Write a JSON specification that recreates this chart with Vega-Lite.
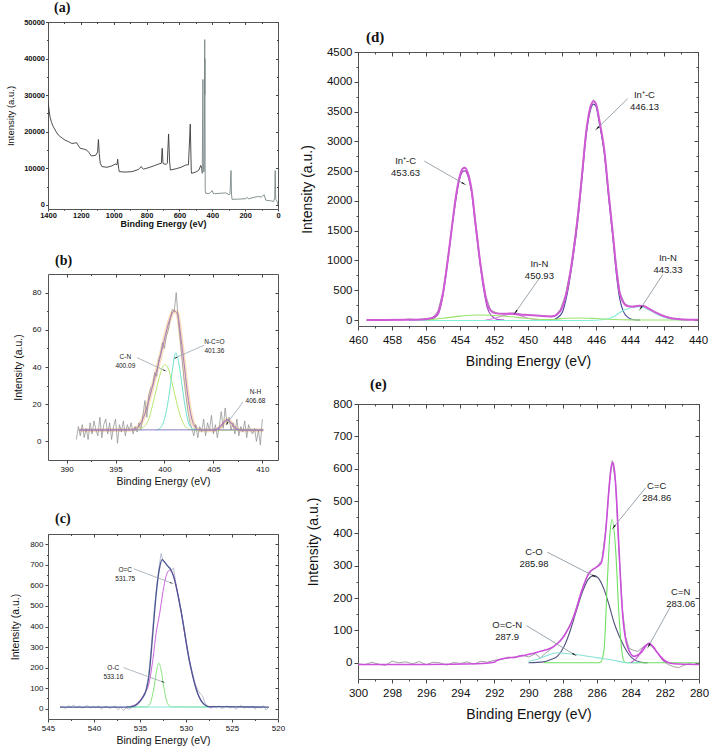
{
"$schema":"https://vega.github.io/schema/vega-lite/v6.json",
"background":"white",
"padding":{"left":5,"top":0,"right":4,"bottom":4},
"config":{
 "font":"Liberation Sans",
 "numberFormat":"d",
 "view":{"stroke":"#555555","strokeWidth":1},
 "axis":{"grid":false,"domain":false,"labelColor":"#111111","titleColor":"#111111","tickColor":"#444444","titleFontWeight":"normal","labelOverlap":false,"labelFlush":false},
 "title":{"font":"Liberation Serif","fontWeight":"bold","anchor":"start","frame":"group","color":"#111111","fontSize":14}
},
"datasets":{
 "a_raw":[{"x":1400,"y":28000},{"x":1395,"y":26500},{"x":1388,"y":24100},{"x":1378,"y":22500},{"x":1368,"y":21400},{"x":1350,"y":20000},{"x":1337,"y":19100},{"x":1320,"y":18500},{"x":1296,"y":17700},{"x":1275,"y":17300},{"x":1255,"y":16800},{"x":1240,"y":16900},{"x":1225,"y":17000},{"x":1215,"y":16200},{"x":1204,"y":15500},{"x":1185,"y":15300},{"x":1164,"y":15000},{"x":1150,"y":14300},{"x":1137,"y":13400},{"x":1120,"y":13500},{"x":1109,"y":13600},{"x":1098,"y":14500},{"x":1093,"y":17900},{"x":1088,"y":14000},{"x":1082,"y":11400},{"x":1072,"y":10500},{"x":1041,"y":10300},{"x":1010,"y":10700},{"x":990,"y":11200},{"x":980,"y":11000},{"x":976,"y":12500},{"x":970,"y":10000},{"x":966,"y":9100},{"x":930,"y":9000},{"x":889,"y":9100},{"x":850,"y":9700},{"x":832,"y":10500},{"x":825,"y":10000},{"x":818,"y":9800},{"x":780,"y":10300},{"x":750,"y":10800},{"x":726,"y":11200},{"x":710,"y":11400},{"x":705,"y":15500},{"x":700,"y":11400},{"x":694,"y":11200},{"x":680,"y":11100},{"x":674,"y":11400},{"x":666,"y":19400},{"x":660,"y":12000},{"x":655,"y":9550},{"x":620,"y":9900},{"x":590,"y":10300},{"x":563,"y":10900},{"x":545,"y":11000},{"x":534,"y":22100},{"x":528,"y":9500},{"x":526,"y":8650},{"x":500,"y":9000},{"x":482,"y":9500},{"x":470,"y":10800},{"x":464,"y":10000},{"x":461,"y":8650},{"x":457,"y":34300},{"x":455,"y":12000},{"x":452,"y":9000},{"x":449,"y":9500},{"x":447,"y":30000},{"x":446,"y":45200},{"x":445.5,"y":30000},{"x":445,"y":40000},{"x":443,"y":4000},{"x":440,"y":3200},{"x":420,"y":3100},{"x":400,"y":3900},{"x":395,"y":3200},{"x":385,"y":3100},{"x":350,"y":3200},{"x":318,"y":3300},{"x":298,"y":2800},{"x":292,"y":3000},{"x":286,"y":9400},{"x":283,"y":3000},{"x":280,"y":1550},{"x":240,"y":1600},{"x":196,"y":1700},{"x":190,"y":2100},{"x":180,"y":1700},{"x":125,"y":2300},{"x":100,"y":2200},{"x":84,"y":2800},{"x":74,"y":1300},{"x":40,"y":1100},{"x":27,"y":950},{"x":20,"y":2000},{"x":17,"y":9400},{"x":14,"y":1500},{"x":9,"y":1300},{"x":3,"y":600},{"x":0,"y":0}],
 "b_raw":[{"x":391.0,"y":1},{"x":391.2,"y":8},{"x":391.4,"y":3},{"x":391.6,"y":9},{"x":391.8,"y":2},{"x":392.0,"y":7},{"x":392.2,"y":1},{"x":392.4,"y":10},{"x":392.6,"y":4},{"x":392.8,"y":11},{"x":393.0,"y":6},{"x":393.2,"y":3},{"x":393.4,"y":13},{"x":393.6,"y":2},{"x":393.8,"y":9},{"x":394.0,"y":12},{"x":394.2,"y":4},{"x":394.4,"y":10},{"x":394.6,"y":1},{"x":394.8,"y":8},{"x":395.0,"y":12},{"x":395.2,"y":-1},{"x":395.4,"y":9},{"x":395.6,"y":5},{"x":395.8,"y":11},{"x":396.0,"y":3},{"x":396.2,"y":9},{"x":396.4,"y":6},{"x":396.6,"y":10},{"x":396.8,"y":4},{"x":397.0,"y":8},{"x":397.2,"y":5},{"x":397.4,"y":10},{"x":397.6,"y":6},{"x":397.8,"y":14},{"x":398.0,"y":22},{"x":398.2,"y":13},{"x":398.4,"y":25},{"x":398.6,"y":29},{"x":398.8,"y":30},{"x":399.0,"y":37},{"x":399.2,"y":35},{"x":399.4,"y":44},{"x":399.6,"y":47},{"x":399.8,"y":53},{"x":400.0,"y":50},{"x":400.2,"y":57},{"x":400.4,"y":60},{"x":400.6,"y":66},{"x":400.8,"y":71},{"x":401.0,"y":70},{"x":401.2,"y":80},{"x":401.4,"y":66},{"x":401.6,"y":55},{"x":401.8,"y":44},{"x":402.0,"y":33},{"x":402.2,"y":24},{"x":402.4,"y":16},{"x":402.6,"y":10},{"x":402.8,"y":7},{"x":403.0,"y":3},{"x":403.2,"y":9},{"x":403.4,"y":2},{"x":403.6,"y":8},{"x":403.8,"y":5},{"x":404.0,"y":12},{"x":404.2,"y":3},{"x":404.4,"y":10},{"x":404.6,"y":6},{"x":404.8,"y":14},{"x":405.0,"y":4},{"x":405.2,"y":9},{"x":405.4,"y":2},{"x":405.6,"y":8},{"x":405.8,"y":16},{"x":406.0,"y":7},{"x":406.2,"y":18},{"x":406.4,"y":9},{"x":406.6,"y":13},{"x":406.8,"y":6},{"x":407.0,"y":10},{"x":407.2,"y":4},{"x":407.4,"y":12},{"x":407.6,"y":3},{"x":407.8,"y":8},{"x":408.0,"y":5},{"x":408.2,"y":11},{"x":408.4,"y":2},{"x":408.6,"y":9},{"x":408.8,"y":6},{"x":409.0,"y":4},{"x":409.2,"y":7},{"x":409.4,"y":0},{"x":409.6,"y":6},{"x":409.8,"y":-2},{"x":410.0,"y":12}],
 "b_fit":[{"s":"env","x":391.3,"y":6},{"s":"env","x":396.5,"y":6.2},{"s":"env","x":397.0,"y":6.8},{"s":"env","x":397.5,"y":9},{"s":"env","x":398.0,"y":15},{"s":"env","x":398.5,"y":24},{"s":"env","x":399.0,"y":34},{"s":"env","x":399.5,"y":44},{"s":"env","x":400.0,"y":55},{"s":"env","x":400.5,"y":65},{"s":"env","x":401.0,"y":70},{"s":"env","x":401.3,"y":69},{"s":"env","x":401.7,"y":55},{"s":"env","x":402.0,"y":42},{"s":"env","x":402.3,"y":28},{"s":"env","x":402.6,"y":17},{"s":"env","x":403.0,"y":9},{"s":"env","x":403.5,"y":6.3},{"s":"env","x":404.0,"y":6},{"s":"env","x":405.0,"y":6},{"s":"env","x":405.6,"y":7},{"s":"env","x":406.0,"y":9.5},{"s":"env","x":406.4,"y":11.6},{"s":"env","x":406.8,"y":10},{"s":"env","x":407.2,"y":7.5},{"s":"env","x":407.8,"y":6},{"s":"env","x":410.1,"y":6},
  {"s":"CN","x":397.0,"y":6},{"s":"CN","x":397.8,"y":7.5},{"s":"CN","x":398.4,"y":12},{"s":"CN","x":398.9,"y":22},{"s":"CN","x":399.4,"y":33},{"s":"CN","x":399.8,"y":40},{"s":"CN","x":400.05,"y":41.3},{"s":"CN","x":400.4,"y":39},{"s":"CN","x":400.8,"y":31},{"s":"CN","x":401.2,"y":22},{"s":"CN","x":401.6,"y":14},{"s":"CN","x":402.0,"y":9},{"s":"CN","x":402.5,"y":6.5},{"s":"CN","x":403.2,"y":6},{"s":"CN","x":410.1,"y":6},
  {"s":"NCO","x":399.2,"y":6},{"s":"NCO","x":399.7,"y":8},{"s":"NCO","x":400.1,"y":14},{"s":"NCO","x":400.5,"y":26},{"s":"NCO","x":400.8,"y":38},{"s":"NCO","x":401.15,"y":47.6},{"s":"NCO","x":401.5,"y":41},{"s":"NCO","x":401.8,"y":30},{"s":"NCO","x":402.1,"y":19},{"s":"NCO","x":402.4,"y":11},{"s":"NCO","x":402.8,"y":7},{"s":"NCO","x":403.3,"y":6},
  {"s":"NH","x":405.0,"y":6},{"s":"NH","x":405.6,"y":7.5},{"s":"NH","x":406.0,"y":10},{"s":"NH","x":406.4,"y":11.6},{"s":"NH","x":406.8,"y":10},{"s":"NH","x":407.2,"y":7.5},{"s":"NH","x":407.6,"y":6},
  {"s":"base","x":391.3,"y":6.2},{"s":"base","x":410.1,"y":6.2}],
 "b_ann":[{"label":"C-N\n400.09","tx":396.0,"ty":45.6,"x1":397.2,"y1":45,"x2":400.0,"y2":38.2,"ang":115},{"label":"N-C=O\n401.36","tx":405.1,"ty":53.2,"x1":404.05,"y1":51.7,"x2":401.15,"y2":45,"ang":247},{"label":"N-H\n406.68","tx":409.3,"ty":26.5,"x1":408.0,"y1":21.1,"x2":406.4,"y2":9.7,"ang":215}],
 "c_raw":[{"x":543.7,"y":5},{"x":543.4,"y":12},{"x":543.1,"y":0},{"x":542.8,"y":15},{"x":542.5,"y":8},{"x":542.2,"y":18},{"x":541.9,"y":4},{"x":541.6,"y":14},{"x":541.3,"y":2},{"x":541.0,"y":10},{"x":540.7,"y":16},{"x":540.4,"y":3},{"x":540.1,"y":12},{"x":539.8,"y":6},{"x":539.5,"y":14},{"x":539.2,"y":-2},{"x":538.9,"y":9},{"x":538.6,"y":12},{"x":538.3,"y":1},{"x":538.0,"y":8},{"x":537.7,"y":13},{"x":537.4,"y":-5},{"x":537.1,"y":7},{"x":536.8,"y":-8},{"x":536.5,"y":4},{"x":536.2,"y":-3},{"x":535.9,"y":6},{"x":535.6,"y":14},{"x":535.3,"y":28},{"x":535.0,"y":38},{"x":534.7,"y":60},{"x":534.4,"y":85},{"x":534.1,"y":150},{"x":533.8,"y":290},{"x":533.5,"y":460},{"x":533.2,"y":590},{"x":532.9,"y":700},{"x":532.7,"y":755},{"x":532.5,"y":720},{"x":532.2,"y":705},{"x":531.9,"y":690},{"x":531.6,"y":672},{"x":531.35,"y":685},{"x":531.1,"y":610},{"x":530.8,"y":545},{"x":530.5,"y":470},{"x":530.2,"y":395},{"x":529.9,"y":310},{"x":529.6,"y":235},{"x":529.3,"y":175},{"x":529.0,"y":120},{"x":528.7,"y":90},{"x":528.4,"y":70},{"x":528.2,"y":62},{"x":527.9,"y":25},{"x":527.6,"y":10},{"x":527.3,"y":2},{"x":527.0,"y":12},{"x":526.7,"y":4},{"x":526.4,"y":15},{"x":526.1,"y":0},{"x":525.8,"y":9},{"x":525.5,"y":14},{"x":525.2,"y":3},{"x":524.9,"y":11},{"x":524.6,"y":-3},{"x":524.3,"y":8},{"x":524.0,"y":16},{"x":523.7,"y":2},{"x":523.4,"y":10},{"x":523.1,"y":5},{"x":522.8,"y":13},{"x":522.5,"y":-2},{"x":522.2,"y":9},{"x":521.9,"y":4},{"x":521.6,"y":15},{"x":521.3,"y":-6},{"x":521.0,"y":8}],
 "c_fit":[{"s":"env","x":543.7,"y":8},{"s":"env","x":536.5,"y":8},{"s":"env","x":535.8,"y":10},{"s":"env","x":535.3,"y":22},{"s":"env","x":534.8,"y":48},{"s":"env","x":534.3,"y":94},{"s":"env","x":534.0,"y":170},{"s":"env","x":533.6,"y":371},{"s":"env","x":533.3,"y":530},{"s":"env","x":533.1,"y":616},{"s":"env","x":532.85,"y":690},{"s":"env","x":532.6,"y":725},{"s":"env","x":532.3,"y":712},{"s":"env","x":532.0,"y":695},{"s":"env","x":531.7,"y":680},{"s":"env","x":531.4,"y":650},{"s":"env","x":531.1,"y":600},{"s":"env","x":530.8,"y":535},{"s":"env","x":530.5,"y":465},{"s":"env","x":530.2,"y":385},{"s":"env","x":529.9,"y":300},{"s":"env","x":529.6,"y":225},{"s":"env","x":529.3,"y":165},{"s":"env","x":529.0,"y":112},{"s":"env","x":528.7,"y":70},{"s":"env","x":528.4,"y":42},{"s":"env","x":528.0,"y":20},{"s":"env","x":527.5,"y":10},{"s":"env","x":521.0,"y":8},
  {"s":"OC1","x":536.5,"y":8},{"s":"OC1","x":535.5,"y":20},{"s":"OC1","x":535.0,"y":40},{"s":"OC1","x":534.5,"y":75},{"s":"OC1","x":534.0,"y":127},{"s":"OC1","x":533.6,"y":240},{"s":"OC1","x":533.24,"y":371},{"s":"OC1","x":532.9,"y":453},{"s":"OC1","x":532.5,"y":570},{"s":"OC1","x":532.2,"y":640},{"s":"OC1","x":531.8,"y":673},{"s":"OC1","x":531.5,"y":662},{"s":"OC1","x":531.2,"y":625},{"s":"OC1","x":530.9,"y":560},{"s":"OC1","x":530.6,"y":490},{"s":"OC1","x":530.3,"y":410},{"s":"OC1","x":530.0,"y":325},{"s":"OC1","x":529.7,"y":250},{"s":"OC1","x":529.4,"y":185},{"s":"OC1","x":529.1,"y":130},{"s":"OC1","x":528.8,"y":85},{"s":"OC1","x":528.5,"y":52},{"s":"OC1","x":528.1,"y":25},{"s":"OC1","x":527.6,"y":10},{"s":"OC1","x":527.0,"y":8},
  {"s":"OC2","x":536.3,"y":8},{"s":"OC2","x":534.3,"y":9},{"s":"OC2","x":534.0,"y":18},{"s":"OC2","x":533.7,"y":55},{"s":"OC2","x":533.4,"y":125},{"s":"OC2","x":533.2,"y":185},{"s":"OC2","x":532.95,"y":221},{"s":"OC2","x":532.7,"y":188},{"s":"OC2","x":532.5,"y":130},{"s":"OC2","x":532.2,"y":55},{"s":"OC2","x":531.9,"y":18},{"s":"OC2","x":531.6,"y":9},{"s":"OC2","x":527.5,"y":8},
  {"s":"base","x":536.5,"y":8},{"s":"base","x":527.5,"y":8}],
 "c_ann":[{"label":"O=C\n531.75","tx":536.6,"ty":676,"x1":535.7,"y1":681,"x2":531.6,"y2":612,"ang":110},{"label":"O-C\n533.16","tx":537.9,"ty":200,"x1":536.8,"y1":200,"x2":532.5,"y2":130,"ang":110}],
 "d_raw":[{"x":459.5,"y":-5},{"x":459,"y":10},{"x":458.5,"y":-8},{"x":458,"y":12},{"x":457.5,"y":3},{"x":457,"y":18},{"x":456.5,"y":8},{"x":456,"y":25},{"x":455.6,"y":40},{"x":455.3,"y":150},{"x":455.0,"y":480},{"x":454.7,"y":1080},{"x":454.4,"y":1720},{"x":454.1,"y":2280},{"x":453.9,"y":2500},{"x":453.72,"y":2570},{"x":453.5,"y":2440},{"x":453.3,"y":2140},{"x":453.0,"y":1450},{"x":452.8,"y":950},{"x":452.5,"y":420},{"x":452.2,"y":170},{"x":451.8,"y":115},{"x":451.3,"y":100},{"x":450.8,"y":120},{"x":450.3,"y":90},{"x":449.8,"y":80},{"x":449.3,"y":70},{"x":448.8,"y":62},{"x":448.4,"y":75},{"x":448.1,"y":180},{"x":447.8,"y":420},{"x":447.5,"y":850},{"x":447.2,"y":1480},{"x":446.9,"y":2250},{"x":446.6,"y":3120},{"x":446.35,"y":3580},{"x":446.15,"y":3700},{"x":446.0,"y":3640},{"x":445.8,"y":3340},{"x":445.5,"y":2800},{"x":445.2,"y":1990},{"x":444.9,"y":1120},{"x":444.6,"y":460},{"x":444.3,"y":270},{"x":444.0,"y":225},{"x":443.7,"y":235},{"x":443.4,"y":245},{"x":443.1,"y":225},{"x":442.8,"y":175},{"x":442.4,"y":115},{"x":442.0,"y":65},{"x":441.5,"y":30},{"x":441.0,"y":12},{"x":440.5,"y":8},{"x":440.0,"y":2}],
 "d_fit":[{"s":"env","x":459.5,"y":0},{"s":"env","x":457,"y":5},{"s":"env","x":456,"y":15},{"s":"env","x":455.6,"y":40},{"s":"env","x":455.3,"y":120},{"s":"env","x":455.0,"y":450},{"s":"env","x":454.7,"y":1050},{"s":"env","x":454.44,"y":1650},{"s":"env","x":454.2,"y":2150},{"s":"env","x":454.0,"y":2430},{"s":"env","x":453.85,"y":2540},{"s":"env","x":453.72,"y":2555},{"s":"env","x":453.55,"y":2480},{"s":"env","x":453.3,"y":2150},{"s":"env","x":453.1,"y":1650},{"s":"env","x":452.87,"y":1100},{"s":"env","x":452.6,"y":560},{"s":"env","x":452.4,"y":270},{"s":"env","x":452.2,"y":160},{"s":"env","x":452.0,"y":120},{"s":"env","x":451.5,"y":105},{"s":"env","x":451.0,"y":110},{"s":"env","x":450.5,"y":95},{"s":"env","x":450.0,"y":85},{"s":"env","x":449.5,"y":75},{"s":"env","x":449.0,"y":65},{"s":"env","x":448.6,"y":60},{"s":"env","x":448.3,"y":90},{"s":"env","x":448.0,"y":200},{"s":"env","x":447.7,"y":500},{"s":"env","x":447.4,"y":1000},{"s":"env","x":447.08,"y":1705},{"s":"env","x":446.8,"y":2500},{"s":"env","x":446.6,"y":3100},{"s":"env","x":446.35,"y":3550},{"s":"env","x":446.15,"y":3674},{"s":"env","x":446.0,"y":3630},{"s":"env","x":445.8,"y":3350},{"s":"env","x":445.5,"y":2824},{"s":"env","x":445.25,"y":2100},{"s":"env","x":445.0,"y":1426},{"s":"env","x":444.8,"y":850},{"s":"env","x":444.62,"y":475},{"s":"env","x":444.4,"y":300},{"s":"env","x":444.1,"y":230},{"s":"env","x":443.8,"y":225},{"s":"env","x":443.5,"y":240},{"s":"env","x":443.2,"y":235},{"s":"env","x":442.9,"y":190},{"s":"env","x":442.5,"y":130},{"s":"env","x":442.17,"y":84},{"s":"env","x":441.7,"y":40},{"s":"env","x":441.2,"y":17},{"s":"env","x":440.5,"y":5},{"s":"env","x":440,"y":3},
  {"s":"p453","x":455.8,"y":0},{"s":"p453","x":455.3,"y":90},{"s":"p453","x":455.0,"y":420},{"s":"p453","x":454.7,"y":1020},{"s":"p453","x":454.44,"y":1620},{"s":"p453","x":454.2,"y":2110},{"s":"p453","x":454.0,"y":2390},{"s":"p453","x":453.85,"y":2490},{"s":"p453","x":453.72,"y":2505},{"s":"p453","x":453.55,"y":2430},{"s":"p453","x":453.3,"y":2100},{"s":"p453","x":453.1,"y":1600},{"s":"p453","x":452.87,"y":1050},{"s":"p453","x":452.6,"y":500},{"s":"p453","x":452.4,"y":210},{"s":"p453","x":452.1,"y":60},{"s":"p453","x":451.8,"y":10},{"s":"p453","x":451.4,"y":0},
  {"s":"p446","x":448.5,"y":0},{"s":"p446","x":448.0,"y":120},{"s":"p446","x":447.7,"y":430},{"s":"p446","x":447.4,"y":950},{"s":"p446","x":447.08,"y":1650},{"s":"p446","x":446.8,"y":2450},{"s":"p446","x":446.6,"y":3050},{"s":"p446","x":446.35,"y":3500},{"s":"p446","x":446.15,"y":3625},{"s":"p446","x":446.0,"y":3585},{"s":"p446","x":445.8,"y":3300},{"s":"p446","x":445.5,"y":2770},{"s":"p446","x":445.25,"y":2040},{"s":"p446","x":445.0,"y":1360},{"s":"p446","x":444.8,"y":770},{"s":"p446","x":444.62,"y":380},{"s":"p446","x":444.4,"y":150},{"s":"p446","x":444.1,"y":40},{"s":"p446","x":443.8,"y":5},{"s":"p446","x":443.4,"y":0},
  {"s":"n451","x":452.5,"y":0},{"s":"n451","x":452.0,"y":25},{"s":"n451","x":451.5,"y":70},{"s":"n451","x":450.93,"y":100},{"s":"n451","x":450.4,"y":70},{"s":"n451","x":449.9,"y":25},{"s":"n451","x":449.3,"y":0},
  {"s":"n443","x":457,"y":-8},{"s":"n443","x":446.5,"y":-8},{"s":"n443","x":445.5,"y":10},{"s":"n443","x":445.0,"y":50},{"s":"n443","x":444.53,"y":139},{"s":"n443","x":443.94,"y":206},{"s":"n443","x":443.6,"y":225},{"s":"n443","x":443.3,"y":220},{"s":"n443","x":442.76,"y":150},{"s":"n443","x":442.3,"y":80},{"s":"n443","x":441.77,"y":27},{"s":"n443","x":441.2,"y":5},{"s":"n443","x":440.5,"y":0},
  {"s":"green","x":456.0,"y":0},{"s":"green","x":455.0,"y":30},{"s":"green","x":454.0,"y":65},{"s":"green","x":453.0,"y":85},{"s":"green","x":452.2,"y":80},{"s":"green","x":451.0,"y":55},{"s":"green","x":450.0,"y":25},{"s":"green","x":449.0,"y":8},{"s":"green","x":448.5,"y":10},{"s":"green","x":447.8,"y":30},{"s":"green","x":447.0,"y":35},{"s":"green","x":446.0,"y":25},{"s":"green","x":445.0,"y":10},{"s":"green","x":444.0,"y":2},{"s":"green","x":443.0,"y":0},{"s":"green","x":440.5,"y":0}],
 "d_ann":[{"label":"In⁺-C\n453.63","tx":457.2,"ty":2675,"x1":456.1,"y1":2668,"x2":453.8,"y2":2292,"ang":120},{"label":"In-N\n450.93","tx":449.33,"ty":941,"x1":449.27,"y1":727,"x2":450.71,"y2":139,"ang":215},{"label":"In⁺-C\n446.13","tx":443.15,"ty":3780,"x1":444.13,"y1":3718,"x2":445.9,"y2":3226,"ang":226},{"label":"In-N\n443.33","tx":441.77,"ty":1043,"x1":442.07,"y1":765,"x2":443.35,"y2":206,"ang":213}],
 "e_raw":[{"x":300,"y":-3},{"x":299.6,"y":-6},{"x":299.2,"y":2},{"x":298.8,"y":-4},{"x":298.4,"y":-8},{"x":298.0,"y":5},{"x":297.6,"y":0},{"x":297.2,"y":3},{"x":296.8,"y":-3},{"x":296.4,"y":4},{"x":296.0,"y":-6},{"x":295.6,"y":2},{"x":295.2,"y":0},{"x":294.8,"y":-7},{"x":294.4,"y":1},{"x":294.0,"y":-2},{"x":293.6,"y":3},{"x":293.2,"y":-4},{"x":292.8,"y":5},{"x":292.4,"y":2},{"x":292.0,"y":8},{"x":291.6,"y":10},{"x":291.2,"y":18},{"x":290.8,"y":15},{"x":290.4,"y":24},{"x":290.0,"y":18},{"x":289.6,"y":28},{"x":289.3,"y":15},{"x":289.0,"y":30},{"x":288.7,"y":42},{"x":288.4,"y":55},{"x":288.1,"y":70},{"x":287.8,"y":95},{"x":287.5,"y":125},{"x":287.2,"y":170},{"x":286.9,"y":220},{"x":286.6,"y":262},{"x":286.3,"y":285},{"x":286.0,"y":296},{"x":285.7,"y":318},{"x":285.45,"y":420},{"x":285.25,"y":560},{"x":285.09,"y":625},{"x":284.9,"y":560},{"x":284.7,"y":350},{"x":284.5,"y":170},{"x":284.3,"y":80},{"x":284.1,"y":45},{"x":283.9,"y":40},{"x":283.6,"y":35},{"x":283.3,"y":48},{"x":283.0,"y":58},{"x":282.7,"y":48},{"x":282.4,"y":28},{"x":282.1,"y":5},{"x":281.8,"y":-5},{"x":281.5,"y":-12},{"x":281.2,"y":-15},{"x":280.9,"y":-8},{"x":280.6,"y":-3},{"x":280.3,"y":-6},{"x":280.0,"y":-3}],
 "e_fit":[{"s":"env","x":300,"y":-5},{"s":"env","x":296,"y":-5},{"s":"env","x":293,"y":-3},{"s":"env","x":292,"y":2},{"s":"env","x":291.84,"y":8},{"s":"env","x":290.66,"y":19},{"s":"env","x":289.49,"y":33},{"s":"env","x":288.51,"y":51},{"s":"env","x":287.92,"y":82},{"s":"env","x":287.33,"y":144},{"s":"env","x":286.85,"y":227},{"s":"env","x":286.45,"y":278},{"s":"env","x":286.06,"y":294},{"s":"env","x":285.73,"y":309},{"s":"env","x":285.48,"y":402},{"s":"env","x":285.28,"y":536},{"s":"env","x":285.15,"y":605},{"s":"env","x":285.05,"y":620},{"s":"env","x":284.95,"y":590},{"s":"env","x":284.85,"y":520},{"s":"env","x":284.69,"y":350},{"s":"env","x":284.5,"y":165},{"s":"env","x":284.2,"y":51},{"s":"env","x":283.81,"y":20},{"s":"env","x":283.42,"y":30},{"s":"env","x":282.93,"y":60},{"s":"env","x":282.44,"y":31},{"s":"env","x":281.96,"y":5},{"s":"env","x":281.5,"y":-3},{"s":"env","x":280,"y":-5},
  {"s":"CO","x":290,"y":0},{"s":"CO","x":289.1,"y":3},{"s":"CO","x":288.7,"y":10},{"s":"CO","x":288.31,"y":20},{"s":"CO","x":287.9,"y":52},{"s":"CO","x":287.53,"y":103},{"s":"CO","x":287.2,"y":160},{"s":"CO","x":286.85,"y":217},{"s":"CO","x":286.5,"y":258},{"s":"CO","x":286.16,"y":270},{"s":"CO","x":285.85,"y":258},{"s":"CO","x":285.57,"y":227},{"s":"CO","x":285.27,"y":178},{"s":"CO","x":284.98,"y":124},{"s":"CO","x":284.7,"y":85},{"s":"CO","x":284.4,"y":51},{"s":"CO","x":284.1,"y":25},{"s":"CO","x":283.8,"y":10},{"s":"CO","x":283.4,"y":2},{"s":"CO","x":283,"y":0},
  {"s":"CC","x":289.1,"y":0},{"s":"CC","x":286.0,"y":0},{"s":"CC","x":285.77,"y":2},{"s":"CC","x":285.57,"y":41},{"s":"CC","x":285.38,"y":247},{"s":"CC","x":285.22,"y":402},{"s":"CC","x":285.09,"y":443},{"s":"CC","x":284.89,"y":350},{"s":"CC","x":284.69,"y":144},{"s":"CC","x":284.44,"y":10},{"s":"CC","x":284.3,"y":0},{"s":"CC","x":280,"y":0},
  {"s":"OCN","x":290,"y":5},{"s":"OCN","x":289.3,"y":14},{"s":"OCN","x":288.8,"y":25},{"s":"OCN","x":288.31,"y":31},{"s":"OCN","x":287.8,"y":29},{"s":"OCN","x":287.0,"y":24},{"s":"OCN","x":286.0,"y":16},{"s":"OCN","x":285.0,"y":8},{"s":"OCN","x":284.2,"y":0},{"s":"OCN","x":283.5,"y":0},
  {"s":"CN","x":284.0,"y":0},{"s":"CN","x":283.6,"y":18},{"s":"CN","x":283.3,"y":45},{"s":"CN","x":282.95,"y":58},{"s":"CN","x":282.6,"y":45},{"s":"CN","x":282.3,"y":20},{"s":"CN","x":281.9,"y":0}],
 "e_ann":[{"label":"C=C\n284.86","tx":282.48,"ty":548,"x1":283.13,"y1":541,"x2":284.98,"y2":421,"ang":219},{"label":"C-O\n285.98","tx":289.68,"ty":343,"x1":288.9,"y1":342,"x2":286.16,"y2":268,"ang":117},{"label":"C=N\n283.06","tx":281.07,"ty":218,"x1":281.66,"y1":175,"x2":282.93,"y2":54,"ang":209},{"label":"O=C-N\n287.9","tx":291.25,"ty":118,"x1":290.12,"y1":115,"x2":287.33,"y2":26,"ang":122}]
},
"hconcat":[
 {"vconcat":[
  {"width":230,"height":187,
   "title":{"text":"(a)","offset":3,"dx":6},
   "layer":[
    {"data":{"name":"a_raw"},"transform":[{"filter":"datum.x >= 461"}],
     "mark":{"type":"line","color":"#3a3a3a","strokeWidth":0.9,"clip":true},
     "encoding":{
      "x":{"field":"x","type":"quantitative","scale":{"domain":[0,1400],"reverse":true,"nice":false,"zero":false},
       "axis":{"values":[0,100,200,300,400,500,600,700,800,900,1000,1100,1200,1300,1400],"labelExpr":"datum.value % 200 === 0 ? datum.label : ''","tickSize":{"condition":{"test":"datum.value % 200 === 0","value":2},"value":1.2},"labelFontSize":7.5,"labelFontWeight":"bold","labelPadding":0,"title":"Binding Energy (eV)","titleFontSize":9,"titleFontWeight":"bold","titlePadding":1}},
      "y":{"field":"y","type":"quantitative","scale":{"domain":[-1100,50000],"nice":false,"zero":false},
       "axis":{"values":[0,5000,10000,15000,20000,25000,30000,35000,40000,45000,50000],"labelExpr":"datum.value % 10000 === 0 ? datum.label : ''","tickSize":{"condition":{"test":"datum.value % 10000 === 0","value":2.5},"value":1.5},"labelFontSize":7.5,"labelFontWeight":"bold","labelPadding":1,"title":"Intensity (a.u.)","titleFontSize":9.5,"titlePadding":8}}
     }},
    {"data":{"name":"a_raw"},"transform":[{"filter":"datum.x <= 461"}],
     "mark":{"type":"line","color":"#7a8888","strokeWidth":0.9,"clip":true},
     "encoding":{
      "x":{"field":"x","type":"quantitative","axis":{"orient":"top","values":[0,100,200,300,400,500,600,700,800,900,1000,1100,1200,1300,1400],"labels":false,"title":null,"tickSize":{"condition":{"test":"datum.value % 200 === 0","value":-2.5},"value":-1.5}}},
      "y":{"field":"y","type":"quantitative","axis":{"orient":"right","values":[0,5000,10000,15000,20000,25000,30000,35000,40000,45000,50000],"labels":false,"title":null,"tickSize":{"condition":{"test":"datum.value % 10000 === 0","value":-2.5},"value":-1.5}}}
     }}
   ],
   "resolve":{"axis":{"x":"independent","y":"independent"}}
  },
  {"width":230,"height":186,
   "title":{"text":"(b)","offset":6,"dx":7},
   "layer":[
    {"data":{"name":"b_fit"},"transform":[{"filter":"datum.s === 'env'"}],
     "mark":{"type":"line","color":"#f9e0bf","strokeWidth":4,"interpolate":"monotone","clip":true},
     "encoding":{
      "x":{"field":"x","type":"quantitative","scale":{"domain":[388.1,411.6],"nice":false,"zero":false},
       "axis":{"values":[390,392.5,395,397.5,400,402.5,405,407.5,410],"labelExpr":"datum.value % 5 === 0 ? datum.label : ''","tickSize":{"condition":{"test":"datum.value % 5 === 0","value":3},"value":1.5},"labelFontSize":8,"labelPadding":2,"title":"Binding Energy (eV)","titleFontSize":10.5,"titlePadding":3}},
      "y":{"field":"y","type":"quantitative","scale":{"domain":[-10,90],"nice":false,"zero":false},
       "axis":{"values":[0,10,20,30,40,50,60,70,80],"labelExpr":"datum.value % 20 === 0 ? datum.label : ''","tickSize":{"condition":{"test":"datum.value % 20 === 0","value":3},"value":1.5},"labelFontSize":8,"labelPadding":4,"title":"Intensity (a.u.)","titleFontSize":10.5,"titlePadding":9}}
     }},
    {"data":{"name":"b_raw"},"mark":{"type":"line","color":"#8a8a8a","strokeWidth":0.7,"clip":true},
     "encoding":{"x":{"field":"x","type":"quantitative","axis":null},"y":{"field":"y","type":"quantitative","axis":null}}},
    {"data":{"name":"b_fit"},"transform":[{"filter":"datum.s !== 'env'"}],
     "mark":{"type":"line","strokeWidth":1,"interpolate":"monotone","clip":true},
     "encoding":{"x":{"field":"x","type":"quantitative","axis":null},"y":{"field":"y","type":"quantitative","axis":null},
      "color":{"field":"s","type":"nominal","scale":{"domain":["base","CN","NCO","NH"],"range":["#8a7fc4","#b9e66f","#6fe3c9","#a464bf"]},"legend":null}}},
    {"data":{"name":"b_fit"},"transform":[{"filter":"datum.s === 'env'"}],
     "mark":{"type":"line","color":"#aa78bc","strokeWidth":1,"interpolate":"monotone","clip":true},
     "encoding":{"x":{"field":"x","type":"quantitative","axis":null},"y":{"field":"y","type":"quantitative","axis":null}}},
    {"data":{"name":"b_ann"},"mark":{"type":"rule","color":"#8f9ba5","strokeWidth":0.7},
     "encoding":{"x":{"field":"x1","type":"quantitative","axis":null},"y":{"field":"y1","type":"quantitative","axis":null},"x2":{"field":"x2"},"y2":{"field":"y2"}}},
    {"data":{"name":"b_ann"},"mark":{"type":"point","shape":"wedge","filled":true,"color":"#111111","size":18,"opacity":1},
     "encoding":{"x":{"field":"x2","type":"quantitative","axis":null},"y":{"field":"y2","type":"quantitative","axis":null},"angle":{"field":"ang","type":"quantitative","scale":null}}},
    {"data":{"name":"b_ann"},"mark":{"type":"text","lineBreak":"\n","fontSize":6.5,"lineHeight":9,"align":"center","baseline":"middle","color":"#222222"},
     "encoding":{"text":{"field":"label"},
      "x":{"field":"tx","type":"quantitative","axis":{"orient":"top","values":[390,392.5,395,397.5,400,402.5,405,407.5,410],"labels":false,"title":null,"tickSize":{"condition":{"test":"datum.value % 5 === 0","value":-3},"value":-1.5}}},
      "y":{"field":"ty","type":"quantitative","axis":{"orient":"right","values":[0,10,20,30,40,50,60,70,80],"labels":false,"title":null,"tickSize":{"condition":{"test":"datum.value % 20 === 0","value":-3},"value":-1.5}}}}}
   ],
   "resolve":{"axis":{"x":"independent","y":"independent"}}
  },
  {"width":230,"height":185,
   "title":{"text":"(c)","offset":8,"dx":7},
   "layer":[
    {"data":{"name":"c_raw"},
     "mark":{"type":"line","color":"#a9acc8","strokeWidth":0.8,"clip":true},
     "encoding":{
      "x":{"field":"x","type":"quantitative","scale":{"domain":[520,545],"reverse":true,"nice":false,"zero":false},
       "axis":{"values":[520,522.5,525,527.5,530,532.5,535,537.5,540,542.5,545],"labelExpr":"datum.value % 5 === 0 ? datum.label : ''","tickSize":{"condition":{"test":"datum.value % 5 === 0","value":3},"value":1.5},"labelFontSize":8,"labelPadding":2,"title":"Binding Energy (eV)","titleFontSize":10.5,"titlePadding":3}},
      "y":{"field":"y","type":"quantitative","scale":{"domain":[-50,850],"nice":false,"zero":false},
       "axis":{"values":[0,50,100,150,200,250,300,350,400,450,500,550,600,650,700,750,800],"labelExpr":"datum.value % 100 === 0 ? datum.label : ''","tickSize":{"condition":{"test":"datum.value % 100 === 0","value":3},"value":1.5},"labelFontSize":8,"labelPadding":2,"title":"Intensity (a.u.)","titleFontSize":10.5,"titlePadding":9}}
     }},
    {"data":{"name":"c_fit"},"transform":[{"filter":"datum.s !== 'env'"}],
     "mark":{"type":"line","strokeWidth":1,"interpolate":"monotone","clip":true},
     "encoding":{"x":{"field":"x","type":"quantitative","axis":null},"y":{"field":"y","type":"quantitative","axis":null},
      "color":{"field":"s","type":"nominal","scale":{"domain":["base","OC2","OC1"],"range":["#86e6dc","#86e47a","#cb64dc"]},"legend":null}}},
    {"data":{"name":"c_fit"},"transform":[{"filter":"datum.s === 'env'"}],
     "mark":{"type":"line","color":"#4b5790","strokeWidth":1.3,"interpolate":"monotone","clip":true},
     "encoding":{"x":{"field":"x","type":"quantitative","axis":null},"y":{"field":"y","type":"quantitative","axis":null}}},
    {"data":{"name":"c_ann"},"mark":{"type":"rule","color":"#8f9ba5","strokeWidth":0.7},
     "encoding":{"x":{"field":"x1","type":"quantitative","axis":null},"y":{"field":"y1","type":"quantitative","axis":null},"x2":{"field":"x2"},"y2":{"field":"y2"}}},
    {"data":{"name":"c_ann"},"mark":{"type":"point","shape":"wedge","filled":true,"color":"#111111","size":18,"opacity":1},
     "encoding":{"x":{"field":"x2","type":"quantitative","axis":null},"y":{"field":"y2","type":"quantitative","axis":null},"angle":{"field":"ang","type":"quantitative","scale":null}}},
    {"data":{"name":"c_ann"},"mark":{"type":"text","lineBreak":"\n","fontSize":6.5,"lineHeight":9,"align":"center","baseline":"middle","color":"#222222"},
     "encoding":{"text":{"field":"label"},
      "x":{"field":"tx","type":"quantitative","axis":{"orient":"top","values":[520,522.5,525,527.5,530,532.5,535,537.5,540,542.5,545],"labels":false,"title":null,"tickSize":{"condition":{"test":"datum.value % 5 === 0","value":-3},"value":-1.5}}},
      "y":{"field":"ty","type":"quantitative","axis":{"orient":"right","values":[0,50,100,150,200,250,300,350,400,450,500,550,600,650,700,750,800],"labels":false,"title":null,"tickSize":{"condition":{"test":"datum.value % 100 === 0","value":-3},"value":-1.5}}}}}
   ],
   "resolve":{"axis":{"x":"independent","y":"independent"}}
  }
 ],"spacing":24,"resolve":{"scale":{"color":"independent"}}},
 {"vconcat":[
  {"width":340,"height":7,"view":{"stroke":null},"data":{"values":[]},"mark":"text","encoding":{}},
  {"vconcat":[
  {"width":340,"height":274,
   "title":{"text":"(d)","offset":1,"dx":8,"fontSize":15},
   "layer":[
    {"data":{"name":"d_raw"},
     "mark":{"type":"line","color":"#8a8a8a","strokeWidth":0.8,"clip":true},
     "encoding":{
      "x":{"field":"x","type":"quantitative","scale":{"domain":[440,460],"reverse":true,"nice":false,"zero":false},
       "axis":{"values":[440,441,442,443,444,445,446,447,448,449,450,451,452,453,454,455,456,457,458,459,460],"labelExpr":"datum.value % 2 === 0 ? datum.label : ''","tickSize":{"condition":{"test":"datum.value % 2 === 0","value":4},"value":2},"labelFontSize":11.5,"labelPadding":4,"title":"Binding Energy (eV)","titleFontSize":14,"titlePadding":9}},
      "y":{"field":"y","type":"quantitative","scale":{"domain":[-100,4500],"nice":false,"zero":false},
       "axis":{"values":[0,250,500,750,1000,1250,1500,1750,2000,2250,2500,2750,3000,3250,3500,3750,4000,4250,4500],"labelExpr":"datum.value % 500 === 0 ? datum.label : ''","tickSize":{"condition":{"test":"datum.value % 500 === 0","value":4},"value":2},"labelFontSize":11.5,"labelPadding":2,"title":"Intensity (a.u.)","titleFontSize":14,"titlePadding":12}}
     }},
    {"data":{"name":"d_fit"},"transform":[{"filter":"datum.s !== 'env'"}],
     "mark":{"type":"line","strokeWidth":1.1,"interpolate":"monotone","clip":true},
     "encoding":{"x":{"field":"x","type":"quantitative","axis":null},"y":{"field":"y","type":"quantitative","axis":null},
      "color":{"field":"s","type":"nominal","scale":{"domain":["green","n443","n451","p446","p453"],"range":["#98e36a","#84eed8","#d884e0","#47499a","#9b42c6"]},"legend":null}}},
    {"data":{"name":"d_fit"},"transform":[{"filter":"datum.s === 'env'"}],
     "mark":{"type":"line","color":"#cf5ad4","strokeWidth":2,"interpolate":"monotone","clip":true},
     "encoding":{"x":{"field":"x","type":"quantitative","axis":null},"y":{"field":"y","type":"quantitative","axis":null}}},
    {"data":{"name":"d_ann"},"mark":{"type":"rule","color":"#8f9ba5","strokeWidth":0.9},
     "encoding":{"x":{"field":"x1","type":"quantitative","axis":null},"y":{"field":"y1","type":"quantitative","axis":null},"x2":{"field":"x2"},"y2":{"field":"y2"}}},
    {"data":{"name":"d_ann"},"mark":{"type":"point","shape":"wedge","filled":true,"color":"#111111","size":40,"opacity":1},
     "encoding":{"x":{"field":"x2","type":"quantitative","axis":null},"y":{"field":"y2","type":"quantitative","axis":null},"angle":{"field":"ang","type":"quantitative","scale":null}}},
    {"data":{"name":"d_ann"},"mark":{"type":"text","lineBreak":"\n","fontSize":9.5,"lineHeight":12,"align":"center","baseline":"middle","color":"#222222"},
     "encoding":{"text":{"field":"label"},
      "x":{"field":"tx","type":"quantitative","axis":{"orient":"top","values":[440,441,442,443,444,445,446,447,448,449,450,451,452,453,454,455,456,457,458,459,460],"labels":false,"title":null,"tickSize":{"condition":{"test":"datum.value % 2 === 0","value":-4},"value":-2}}},
      "y":{"field":"ty","type":"quantitative","axis":{"orient":"right","values":[0,250,500,750,1000,1250,1500,1750,2000,2250,2500,2750,3000,3250,3500,3750,4000,4250,4500],"labels":false,"title":null,"tickSize":{"condition":{"test":"datum.value % 500 === 0","value":-4},"value":-2}}}}}
   ],
   "resolve":{"axis":{"x":"independent","y":"independent"}}
  },
  {"width":341,"height":275,
   "title":{"text":"(e)","offset":6,"dx":12,"fontSize":15},
   "layer":[
    {"data":{"name":"e_raw"},
     "mark":{"type":"line","color":"#8a8a8a","strokeWidth":0.8,"clip":true},
     "encoding":{
      "x":{"field":"x","type":"quantitative","scale":{"domain":[280,300],"reverse":true,"nice":false,"zero":false},
       "axis":{"values":[280,281,282,283,284,285,286,287,288,289,290,291,292,293,294,295,296,297,298,299,300],"labelExpr":"datum.value % 2 === 0 ? datum.label : ''","tickSize":{"condition":{"test":"datum.value % 2 === 0","value":4},"value":2},"labelFontSize":11.5,"labelPadding":4,"title":"Binding Energy (eV)","titleFontSize":14,"titlePadding":9}},
      "y":{"field":"y","type":"quantitative","scale":{"domain":[-50,800],"nice":false,"zero":false},
       "axis":{"values":[0,50,100,150,200,250,300,350,400,450,500,550,600,650,700,750,800],"labelExpr":"datum.value % 100 === 0 ? datum.label : ''","tickSize":{"condition":{"test":"datum.value % 100 === 0","value":4},"value":2},"labelFontSize":11.5,"labelPadding":2,"title":"Intensity (a.u.)","titleFontSize":14,"titlePadding":12}}
     }},
    {"data":{"name":"e_fit"},"transform":[{"filter":"datum.s !== 'env'"}],
     "mark":{"type":"line","strokeWidth":1.1,"interpolate":"monotone","clip":true},
     "encoding":{"x":{"field":"x","type":"quantitative","axis":null},"y":{"field":"y","type":"quantitative","axis":null},
      "color":{"field":"s","type":"nominal","scale":{"domain":["CC","CN","CO","OCN"],"range":["#6fe063","#c451d4","#50527f","#86e2d2"]},"legend":null}}},
    {"data":{"name":"e_fit"},"transform":[{"filter":"datum.s === 'env'"}],
     "mark":{"type":"line","color":"#cc4fdc","strokeWidth":1.6,"interpolate":"monotone","clip":true},
     "encoding":{"x":{"field":"x","type":"quantitative","axis":null},"y":{"field":"y","type":"quantitative","axis":null}}},
    {"data":{"name":"e_ann"},"mark":{"type":"rule","color":"#8f9ba5","strokeWidth":0.9},
     "encoding":{"x":{"field":"x1","type":"quantitative","axis":null},"y":{"field":"y1","type":"quantitative","axis":null},"x2":{"field":"x2"},"y2":{"field":"y2"}}},
    {"data":{"name":"e_ann"},"mark":{"type":"point","shape":"wedge","filled":true,"color":"#111111","size":40,"opacity":1},
     "encoding":{"x":{"field":"x2","type":"quantitative","axis":null},"y":{"field":"y2","type":"quantitative","axis":null},"angle":{"field":"ang","type":"quantitative","scale":null}}},
    {"data":{"name":"e_ann"},"mark":{"type":"text","lineBreak":"\n","fontSize":9.5,"lineHeight":12,"align":"center","baseline":"middle","color":"#222222"},
     "encoding":{"text":{"field":"label"},
      "x":{"field":"tx","type":"quantitative","axis":{"orient":"top","values":[280,281,282,283,284,285,286,287,288,289,290,291,292,293,294,295,296,297,298,299,300],"labels":false,"title":null,"tickSize":{"condition":{"test":"datum.value % 2 === 0","value":-4},"value":-2}}},
      "y":{"field":"ty","type":"quantitative","axis":{"orient":"right","values":[0,50,100,150,200,250,300,350,400,450,500,550,600,650,700,750,800],"labels":false,"title":null,"tickSize":{"condition":{"test":"datum.value % 100 === 0","value":-4},"value":-2}}}}}
   ],
   "resolve":{"axis":{"x":"independent","y":"independent"}}
  }
  ],"spacing":7,"resolve":{"scale":{"color":"independent"}}}
 ],"spacing":0,"resolve":{"scale":{"color":"independent"}}}
],
"spacing":13,
"resolve":{"scale":{"color":"independent"}}
}
